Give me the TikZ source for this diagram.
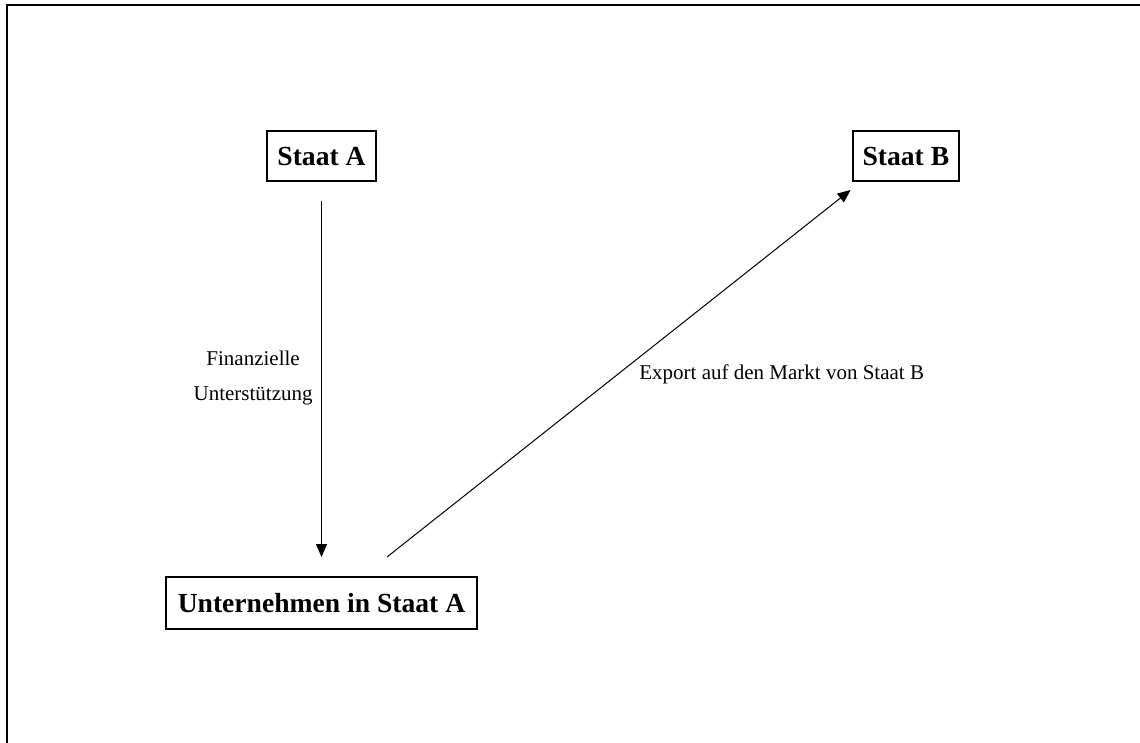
\documentclass[tikz,border=0pt]{standalone}
\usepackage{fontspec}
\setmainfont{Liberation Serif}
\usetikzlibrary{positioning,calc}
\usetikzlibrary{arrows.meta}

\begin{document}
\begin{tikzpicture}[x=0.5pt,y=-0.5pt,
         state/.style = {draw,line width=1pt,inner xsep=5pt,minimum height=25pt,
         font=\fontsize{13.8}{16}\selectfont\bfseries},
         flow/.style = {line width=0.5pt,-{Triangle[length=6.5pt,width=5.5pt]}},
         flowlabel/.style = {inner sep=0pt,align=center,
         font=\fontsize{10.5}{17.5}\selectfont}
]
         \useasboundingbox (0,0) rectangle (1140,743);

         % frame
         \draw[line width=1pt] (7,743) -- (7,5) -- (1140,5);

         \node[state]                       (sa) at (321.5,156) {Staat A};
         \node[state,right=237.5pt of sa]   (sb) {Staat B};
         \node[state,inner xsep=6pt,minimum height=26pt,
               below=197pt of sa]           (un) {Unternehmen in Staat A};

         % financial support
         \draw[flow,shorten <=9.5pt,shorten >=9.5pt] (sa) -- (un);
         \node[flowlabel,anchor=east] (fin) at (313,378)
               {Finanzielle\\Unterstützung};

         % export
         \draw[flow] ([xshift=32.75pt,yshift=9.5pt]un.north)
               -- ([xshift=-0.5pt,yshift=-4pt]sb.south west);
         \node[flowlabel,anchor=west] (exp) at (639,374)
               {Export auf den Markt von Staat B};
\end{tikzpicture}
\end{document}
